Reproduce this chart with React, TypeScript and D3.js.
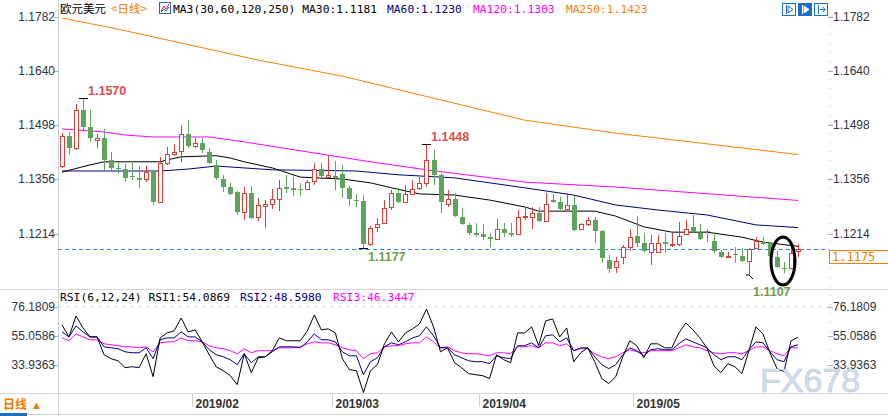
import React from "react";
import * as d3 from "d3";

// daily EUR/USD candles, 2019-01-07 .. 2019-06-03
const opens = [
  1.1391, 1.1470, 1.1438, 1.1538, 1.1493, 1.1459, 1.1464, 1.1407, 1.1386, 1.1383,
  1.1365, 1.1360, 1.1357, 1.1375, 1.1297, 1.1399, 1.1423, 1.1430, 1.1475, 1.1443,
  1.1451, 1.1428, 1.1394, 1.1357, 1.1336, 1.1323, 1.1271, 1.1321, 1.1258, 1.1286,
  1.1292, 1.1305, 1.1336, 1.1334, 1.1331, 1.1331, 1.1352, 1.1383, 1.1362, 1.1365,
  1.1370, 1.1334, 1.1302, 1.1300, 1.1187, 1.1232, 1.1242, 1.1284, 1.1321, 1.1297,
  1.1318, 1.1334, 1.1347, 1.1407, 1.1368, 1.1292, 1.1305, 1.1258, 1.1237, 1.1216,
  1.1213, 1.1206, 1.1200, 1.1226, 1.1216, 1.1213, 1.1258, 1.1258, 1.1268, 1.1247,
  1.1302, 1.1297, 1.1279, 1.1289, 1.1226, 1.1240, 1.1250, 1.1221, 1.1145, 1.1127,
  1.1153, 1.1179, 1.1208, 1.1190, 1.1166, 1.1166, 1.1192, 1.1185, 1.1187, 1.1213,
  1.1232, 1.1216, 1.1221, 1.1195, 1.1166, 1.1153, 1.1161, 1.1156, 1.1143, 1.1177,
  1.1192, 1.1190, 1.1153, 1.1124, 1.1124, 1.1168,
];
const highs = [
  1.1477, 1.1480, 1.1554, 1.1570, 1.1538, 1.1475, 1.1488, 1.1428, 1.1402, 1.1396,
  1.1405, 1.1391, 1.1391, 1.1381, 1.1415, 1.1441, 1.1449, 1.1498, 1.1511, 1.1464,
  1.1464, 1.1438, 1.1407, 1.1368, 1.1347, 1.1326, 1.1336, 1.1339, 1.1307, 1.1302,
  1.1331, 1.1355, 1.1368, 1.1362, 1.1347, 1.1355, 1.1399, 1.1399, 1.1417, 1.1405,
  1.1394, 1.1339, 1.1318, 1.1315, 1.1234, 1.1255, 1.1302, 1.1328, 1.1334, 1.1341,
  1.1355, 1.1362, 1.1448, 1.1433, 1.1373, 1.1328, 1.1321, 1.1281, 1.1242, 1.1242,
  1.1240, 1.1216, 1.1252, 1.1242, 1.1242, 1.1276, 1.1284, 1.1284, 1.1284, 1.1321,
  1.1318, 1.1310, 1.1321, 1.1313, 1.1242, 1.1258, 1.1258, 1.1224, 1.1158, 1.1153,
  1.1184, 1.1226, 1.1260, 1.1216, 1.1211, 1.1211, 1.1216, 1.1216, 1.1245, 1.1250,
  1.1263, 1.1240, 1.1226, 1.1218, 1.1172, 1.1166, 1.1179, 1.1177, 1.1177, 1.1206,
  1.1206, 1.1192, 1.1169, 1.1140, 1.1184, 1.1187,
];
const lows = [
  1.1386, 1.1420, 1.1433, 1.1485, 1.1454, 1.1438, 1.1381, 1.1381, 1.1371, 1.1349,
  1.1355, 1.1334, 1.1349, 1.1289, 1.1295, 1.1394, 1.1417, 1.1402, 1.1438, 1.1438,
  1.1425, 1.1397, 1.1355, 1.1323, 1.1315, 1.1263, 1.1250, 1.1253, 1.1247, 1.1229,
  1.1279, 1.1273, 1.1321, 1.1313, 1.1313, 1.1328, 1.1341, 1.1362, 1.1362, 1.1328,
  1.1307, 1.1286, 1.1284, 1.1177, 1.1182, 1.1218, 1.1239, 1.1276, 1.1294, 1.1294,
  1.1315, 1.1328, 1.1336, 1.1341, 1.1268, 1.1284, 1.1258, 1.1237, 1.1211, 1.1206,
  1.1198, 1.1179, 1.1198, 1.1206, 1.1206, 1.1211, 1.1250, 1.1226, 1.1245, 1.1245,
  1.1294, 1.1276, 1.1276, 1.1221, 1.1224, 1.1234, 1.1190, 1.1137, 1.1111, 1.1111,
  1.1135, 1.1169, 1.1179, 1.1166, 1.1132, 1.1164, 1.1164, 1.1179, 1.1182, 1.1211,
  1.1216, 1.1198, 1.1192, 1.1164, 1.1150, 1.1150, 1.1137, 1.1140, 1.1107, 1.1174,
  1.1185, 1.1153, 1.1124, 1.1111, 1.1124, 1.1153,
];
const closes = [
  1.1470, 1.1438, 1.1538, 1.1493, 1.1464, 1.1464, 1.1407, 1.1386, 1.1383, 1.1360,
  1.1362, 1.1355, 1.1375, 1.1297, 1.1399, 1.1423, 1.1428, 1.1475, 1.1443, 1.1451,
  1.1433, 1.1399, 1.1360, 1.1336, 1.1318, 1.1271, 1.1321, 1.1255, 1.1289, 1.1292,
  1.1305, 1.1334, 1.1331, 1.1328, 1.1328, 1.1349, 1.1383, 1.1365, 1.1368, 1.1360,
  1.1334, 1.1305, 1.1300, 1.1187, 1.1229, 1.1240, 1.1281, 1.1321, 1.1297, 1.1318,
  1.1331, 1.1347, 1.1407, 1.1368, 1.1297, 1.1305, 1.1260, 1.1240, 1.1216, 1.1211,
  1.1206, 1.1200, 1.1226, 1.1216, 1.1211, 1.1258, 1.1260, 1.1268, 1.1247, 1.1292,
  1.1297, 1.1279, 1.1289, 1.1224, 1.1240, 1.1250, 1.1221, 1.1150, 1.1122, 1.1143,
  1.1179, 1.1206, 1.1190, 1.1169, 1.1190, 1.1190, 1.1187, 1.1187, 1.1208, 1.1226,
  1.1218, 1.1200, 1.1218, 1.1169, 1.1153, 1.1156, 1.1158, 1.1143, 1.1174, 1.1195,
  1.1187, 1.1156, 1.1127, 1.1122, 1.1163, 1.1175,
];

const rsi1 = [
  63.0, 54.3, 69.5, 60.8, 54.3, 54.3, 41.4, 38.5, 37.0, 32.0,
  32.7, 32.0, 42.1, 25.5, 53.6, 57.2, 58.7, 68.0, 57.9, 59.4,
  50.7, 41.4, 32.7, 29.8, 26.2, 19.7, 42.1, 28.4, 39.2, 39.9,
  44.3, 53.6, 51.5, 51.5, 51.5, 58.7, 70.2, 59.4, 60.1, 57.2,
  38.5, 30.6, 29.8, 14.0, 29.8, 34.2, 49.3, 57.9, 50.7, 57.2,
  60.1, 63.7, 74.5, 61.6, 43.5, 46.4, 35.6, 32.0, 27.7, 26.9,
  26.2, 24.1, 41.4, 37.8, 35.6, 57.2, 57.2, 61.6, 47.9, 65.9,
  67.3, 54.3, 60.8, 36.3, 42.8, 46.4, 36.3, 24.1, 20.5, 25.5,
  39.9, 51.5, 47.9, 39.2, 49.3, 49.3, 46.4, 46.4, 57.2, 64.4,
  59.4, 53.6, 46.4, 33.4, 28.4, 34.9, 32.7, 27.7, 44.3, 61.6,
  56.5, 42.8, 31.3, 29.1, 51.5, 54.09,
];
const rsi2 = [
  57.9, 54.3, 62.3, 57.9, 54.3, 54.3, 47.1, 46.4, 45.7, 43.5,
  42.8, 42.8, 46.4, 38.5, 52.2, 53.6, 53.6, 57.9, 54.3, 54.3,
  50.7, 45.0, 41.4, 39.9, 37.8, 34.2, 42.1, 35.6, 39.9, 39.9,
  43.5, 47.1, 47.1, 47.1, 46.4, 50.7, 56.5, 52.2, 52.2, 50.7,
  43.5, 40.6, 40.6, 26.9, 36.3, 39.2, 47.1, 50.0, 48.6, 50.7,
  53.6, 55.1, 61.6, 55.1, 46.4, 46.4, 41.4, 39.2, 37.0, 36.3,
  36.3, 34.9, 40.6, 39.2, 38.5, 47.9, 47.9, 50.0, 46.4, 55.1,
  55.8, 50.7, 53.6, 44.3, 46.4, 46.4, 39.9, 34.2, 31.3, 34.2,
  41.4, 46.4, 44.3, 40.6, 45.0, 45.7, 45.0, 45.0, 49.3, 52.9,
  50.7, 48.6, 46.4, 41.4, 37.8, 39.9, 39.9, 37.8, 45.0, 50.7,
  50.0, 43.5, 37.8, 36.3, 47.1, 48.6,
];
const rsi3 = [
  53.6, 51.5, 56.5, 54.3, 52.2, 52.2, 49.3, 48.6, 47.9, 47.1,
  47.1, 46.4, 47.1, 43.5, 50.0, 50.7, 50.7, 53.6, 51.5, 51.5,
  50.7, 47.9, 46.4, 45.7, 44.3, 42.1, 45.7, 42.8, 44.3, 44.3,
  44.3, 46.4, 46.4, 46.4, 47.1, 49.3, 50.7, 50.0, 50.0, 48.6,
  46.4, 45.0, 44.3, 38.5, 42.1, 42.8, 47.1, 47.9, 47.9, 49.3,
  50.0, 50.0, 54.3, 50.7, 46.4, 47.1, 44.3, 42.8, 42.1, 42.1,
  41.4, 40.6, 42.8, 42.8, 42.1, 47.1, 47.1, 47.9, 46.4, 50.0,
  50.0, 47.9, 49.3, 44.3, 45.7, 45.7, 42.1, 39.9, 38.5, 39.9,
  42.8, 45.0, 43.5, 42.8, 44.3, 44.3, 44.3, 44.3, 46.4, 48.6,
  47.1, 46.4, 44.3, 42.8, 42.1, 42.8, 42.8, 42.1, 44.3, 47.1,
  47.1, 44.3, 42.1, 40.6, 46.4, 46.34,
];

// moving averages: [candle index, value] at the bends of each line
const ma30 = [
  [0, 1.1375], [4, 1.1394], [6, 1.1402], [14, 1.1402], [15, 1.1407], [17, 1.1415],
  [22, 1.1418], [24, 1.1412], [26, 1.1402], [30, 1.1386], [34, 1.1362], [40, 1.1357],
  [44, 1.1347], [47, 1.1334], [51, 1.1318], [56, 1.1315], [61, 1.1302], [66, 1.1284],
  [68, 1.1273], [76, 1.1273], [79, 1.126], [83, 1.1232], [87, 1.1218], [92, 1.1218],
  [97, 1.1205], [100, 1.1192], [105, 1.1181],
];
const ma60 = [
  [0, 1.1378], [14, 1.1378], [18, 1.1383], [22, 1.1391], [26, 1.1386], [30, 1.1381],
  [42, 1.1378], [48, 1.1368], [56, 1.136], [66, 1.1334], [73, 1.1315], [79, 1.1289],
  [85, 1.1276], [92, 1.1263], [99, 1.1237], [105, 1.123],
];
const ma120 = [
  [0, 1.1488], [6, 1.148], [9, 1.1472], [13, 1.1467], [21, 1.1467], [26, 1.1454],
  [35, 1.1428], [44, 1.1402], [52, 1.1381], [66, 1.1349], [79, 1.1336], [85, 1.1328],
  [105, 1.1301],
];
const ma250 = [
  [0, 1.1778], [8, 1.1749], [28, 1.1668], [40, 1.1626], [66, 1.1511], [79, 1.1477],
  [105, 1.1421],
];

const priceTicks = [1.1782, 1.164, 1.1498, 1.1356, 1.1214];
const rsiTicks = [76.1809, 55.0586, 33.9363];
const monthLabels = ["2019/02", "2019/03", "2019/04", "2019/05"];
const monthStarts = [19, 39, 60, 82];
const lastPrice = 1.1175;

const UP = "#dc3f3a";
const DOWN = "#5fa45c";
const MONO = "'DejaVu Sans Mono', monospace";
const CJK = "'Noto Sans CJK SC', sans-serif";
const SANS = "'Liberation Sans', Arial, sans-serif";

export default function App() {
  const width = 888;
  const height = 416;
  const n = closes.length;

  const x = d3.scaleLinear().domain([0, n - 1]).range([62, 798]);
  const y = d3.scaleLinear().domain([1.1214, 1.1782]).range([233.7, 16.5]);
  const yr = d3.scaleLinear().domain([33.9363, 76.1809]).range([365, 306.7]);

  const maLine = d3
    .line<number[]>()
    .x((d) => x(d[0]))
    .y((d) => y(d[1]));
  const rsiLine = d3
    .line<number>()
    .x((_, i) => x(i))
    .y((d) => yr(d));

  const mark = (i: number, v: number) => ({ cx: Math.round(x(i)), cy: Math.round(y(v)) });
  const hi1 = mark(3, highs[3]);
  const hi2 = mark(52, highs[52]);
  const lo1 = mark(43, lows[43]);
  const lo2 = mark(98, lows[98]);
  const lastY = Math.round(y(lastPrice)) + 0.5;

  return (
    <svg
      width={width}
      height={height}
      viewBox={`0 0 ${width} ${height}`}
      style={{ position: "absolute", left: 0, top: 0, background: "#fff" }}
    >
      <rect width={width} height={height} fill="#fff" />

      {/* frame */}
      <line x1={58.5} x2={58.5} y1={0} y2={height} stroke="#c9d1da" />
      <line x1={830.5} x2={830.5} y1={16} y2={393} stroke="#b8b8b8" strokeDasharray="1 8" />
      <line x1={0} x2={width} y1={289.5} y2={289.5} stroke="#d6d6d6" />
      <line x1={0} x2={width} y1={393.5} y2={393.5} stroke="#d6d6d6" />
      <line x1={27} x2={width} y1={414.5} y2={414.5} stroke="#cfcfcf" />
      <line x1={58} x2={830} y1={yr(76.1809)} y2={yr(76.1809)} stroke="#dedede" strokeDasharray="4 4" />

      {/* header */}
      <text x={60} y={13} fontFamily={CJK} fontSize={11.5} fill="#000">欧元美元</text>
      <text x={111} y={13} fontFamily={CJK} fontSize={11.5} fill="#f07c00">&lt;日线&gt;</text>
      <rect x={159.5} y={2.5} width={11} height={11} fill="#fff" stroke="#3b5fa8" />
      <polyline points="161,11 164,6 166,9 169,4" fill="none" stroke="#d23" strokeWidth={1} />
      <polyline points="161,12 164,9 166,11 169,7" fill="none" stroke="#25a" strokeWidth={1} />
      <text fontFamily={MONO} fontSize={11.3} y={12.5}>
        <tspan x={173} fill="#000">MA3(30,60,120,250) MA30:1.1181</tspan>
        <tspan x={387} fill="#000080">MA60:1.1230</tspan>
        <tspan x={473} fill="#ff00ff">MA120:1.1303</tspan>
        <tspan x={566} fill="#ff8000">MA250:1.1423</tspan>
      </text>

      {/* toolbar icons */}
      {[782, 798, 814].map((bx, k) => (
        <g key={bx}>
          <rect x={bx + 0.5} y={3.5} width={13} height={12} fill={k === 1 ? "#1b6fc6" : "#fff"} stroke="#1b6fc6" />
          <line x1={bx + 4.5} x2={bx + 4.5} y1={5} y2={14} stroke={k === 1 ? "#fff" : "#1b6fc6"} />
          <path
            d={k === 2 ? `M${bx + 6},9.5 h5 M${bx + 9},7 l2,2.5 l-2,2.5` : `M${bx + 6},6 l5,3.5 l-5,3.5 z`}
            fill={k === 1 ? "#fff" : "none"}
            stroke={k === 1 ? "#fff" : "#1b6fc6"}
          />
        </g>
      ))}

      {/* price axes */}
      {priceTicks.map((t) => (
        <g key={t}>
          <line x1={54} x2={58} y1={Math.round(y(t)) + 0.5} y2={Math.round(y(t)) + 0.5} stroke="#9fb0c0" />
          <line x1={828} x2={833} y1={Math.round(y(t)) + 0.5} y2={Math.round(y(t)) + 0.5} stroke="#9fb0c0" />
          <text x={55} y={y(t) + 4} textAnchor="end" fontFamily={SANS} fontSize={12} fill="#2e3440">
            {t.toFixed(4)}
          </text>
          <text x={833} y={y(t) + 4} fontFamily={SANS} fontSize={12} fill="#2e3440">
            {t.toFixed(4)}
          </text>
        </g>
      ))}

      {/* moving averages */}
      <path d={maLine(ma250) ?? ""} fill="none" stroke="#ff8000" />
      <path d={maLine(ma120) ?? ""} fill="none" stroke="#ff00ff" />
      <path d={maLine(ma60) ?? ""} fill="none" stroke="#000080" />
      <path d={maLine(ma30) ?? ""} fill="none" stroke="#000" />

      {/* last price */}
      <line
        x1={58}
        x2={829}
        y1={lastY}
        y2={lastY}
        stroke="#1a8cff"
        strokeDasharray="4 3"
        shapeRendering="crispEdges"
      />
      <rect x={829.5} y={250.5} width={60} height={13} fill="#fff" stroke="#f08000" />
      <text x={832} y={261} fontFamily={MONO} fontSize={12} fill="#f08000">1.1175</text>

      {/* candles */}
      <g shapeRendering="crispEdges">
        {closes.map((c, i) => {
          const o = opens[i];
          const up = c >= o;
          const col = up ? UP : DOWN;
          const cx = Math.round(x(i));
          const top = Math.round(y(Math.max(o, c)));
          const bot = Math.round(y(Math.min(o, c)));
          return (
            <g key={i}>
              <line x1={cx + 0.5} x2={cx + 0.5} y1={y(highs[i])} y2={y(lows[i])} stroke={col} />
              {up ? (
                <rect x={cx - 1.5} y={top + 0.5} width={4} height={Math.max(bot - top, 1)} fill="#fff" stroke={col} />
              ) : (
                <rect x={cx - 2} y={top} width={5} height={Math.max(bot - top, 1)} fill={col} />
              )}
            </g>
          );
        })}
      </g>

      {/* extremes */}
      <g stroke="#000" fill="none">
        <line x1={hi1.cx - 4} x2={hi1.cx + 5} y1={hi1.cy + 0.5} y2={hi1.cy + 0.5} />
        <line x1={hi2.cx - 4} x2={hi2.cx + 5} y1={hi2.cy + 0.5} y2={hi2.cy + 0.5} />
        <line x1={lo1.cx - 4} x2={lo1.cx + 5} y1={lo1.cy + 0.5} y2={lo1.cy + 0.5} />
        <polyline points={`${lo2.cx - 3},${lo2.cy} ${lo2.cx},${lo2.cy} ${lo2.cx + 4},${lo2.cy + 4}`} />
      </g>
      <g fontFamily={SANS} fontSize={12.5} fontWeight="bold">
        <text x={hi1.cx + 5} y={hi1.cy - 3} fill="#de4d48">{highs[3].toFixed(4)}</text>
        <text x={hi2.cx + 5} y={hi2.cy - 3} fill="#de4d48">{highs[52].toFixed(4)}</text>
        <text x={lo1.cx + 5} y={lo1.cy + 13} fill="#6f9d4c">{lows[43].toFixed(4)}</text>
        <text x={lo2.cx + 4} y={lo2.cy + 21} fill="#6f9d4c">{lows[98].toFixed(4)}</text>
      </g>

      <ellipse cx={783} cy={261} rx={12} ry={24} fill="none" stroke="#000" strokeWidth={3} />

      {/* RSI panel */}
      <text fontFamily={MONO} fontSize={11.3} y={301}>
        <tspan x={60} fill="#000">RSI(6,12,24) RSI1:54.0869</tspan>
        <tspan x={240} fill="#000080">RSI2:48.5980</tspan>
        <tspan x={333} fill="#ff00ff">RSI3:46.3447</tspan>
      </text>
      {rsiTicks.map((t) => (
        <g key={t}>
          <line x1={54} x2={58} y1={Math.round(yr(t)) + 0.5} y2={Math.round(yr(t)) + 0.5} stroke="#9fb0c0" />
          <line x1={828} x2={833} y1={Math.round(yr(t)) + 0.5} y2={Math.round(yr(t)) + 0.5} stroke="#9fb0c0" />
          <text x={55} y={yr(t) + 4} textAnchor="end" fontFamily={SANS} fontSize={12} fill="#2e3440">
            {t.toFixed(4)}
          </text>
          <text x={833} y={yr(t) + 4} fontFamily={SANS} fontSize={12} fill="#2e3440">
            {t.toFixed(4)}
          </text>
        </g>
      ))}
      <path d={rsiLine(rsi3) ?? ""} fill="none" stroke="#ff00ff" />
      <path d={rsiLine(rsi2) ?? ""} fill="none" stroke="#000080" />
      <path d={rsiLine(rsi1) ?? ""} fill="none" stroke="#000" />

      {/* watermark */}
      <text x={760} y={392} fontFamily={SANS} fontSize={34} fill="#d3deeb" stroke="#b8c7d9" strokeWidth={0.6}>
        FX678
      </text>

      {/* date axis */}
      {monthStarts.map((m, k) => {
        const mx = Math.round(x(m) - 3.5) + 0.5;
        return (
          <g key={m}>
            <line x1={mx} x2={mx} y1={394} y2={407} stroke="#d0d0d0" />
            <text x={mx + 3} y={408} fontFamily={SANS} fontSize={12} fontWeight="bold" fill="#333">
              {monthLabels[k]}
            </text>
          </g>
        );
      })}
      <text x={3} y={409} fontFamily={CJK} fontSize={12} fontWeight="bold" fill="#f07800">日线</text>
      <text x={31} y={409} fontFamily={SANS} fontSize={11} fill="#f07800">▲</text>
      <rect x={0} y={413} width={27} height={3} fill="#1d6dc1" />
    </svg>
  );
}
